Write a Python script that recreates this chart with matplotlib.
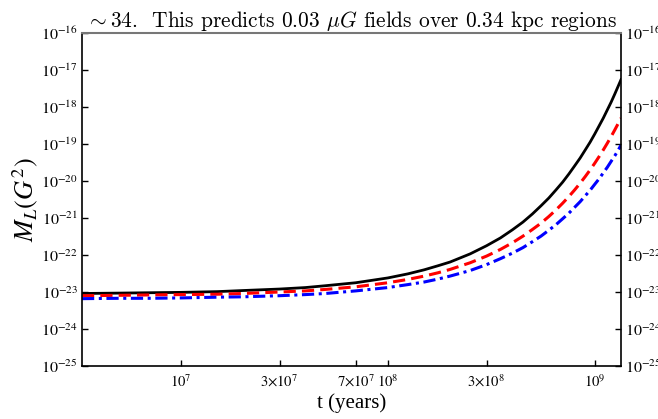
import numpy as np
import matplotlib
matplotlib.use("Agg")
import matplotlib.pyplot as plt
from matplotlib.ticker import FixedLocator, FixedFormatter, NullLocator

# time samples (years) and log10 of M_L
t_years = [3.33e6, 5e6, 7e6, 1e7, 1.5e7, 2e7, 3e7, 4e7, 5e7, 7e7,
           1e8, 1.25e8, 1.5e8, 1.75e8, 2e8, 2.5e8, 3e8, 3.5e8, 4e8, 4.5e8,
           5e8, 5.5e8, 6e8, 6.5e8, 7e8, 7.5e8, 8e8, 8.5e8, 9e8, 9.5e8,
           1e9, 1.05e9, 1.1e9, 1.15e9, 1.2e9, 1.25e9, 1.3e9, 1.34e9]
log_black = [-23.04, -23.03, -23.02, -23.01, -22.99, -22.96, -22.92, -22.88, -22.83, -22.75,
             -22.62, -22.51, -22.40, -22.29, -22.19, -21.97, -21.75, -21.54, -21.32, -21.11,
             -20.89, -20.67, -20.46, -20.24, -20.03, -19.81, -19.59, -19.38, -19.16, -18.95,
             -18.73, -18.51, -18.30, -18.08, -17.87, -17.65, -17.43, -17.26]
log_red = [-23.10, -23.09, -23.08, -23.07, -23.06, -23.04, -23.00, -22.97, -22.93, -22.86,
           -22.75, -22.66, -22.57, -22.48, -22.39, -22.21, -22.03, -21.85, -21.67, -21.49,
           -21.31, -21.14, -20.96, -20.78, -20.60, -20.42, -20.24, -20.06, -19.88, -19.70,
           -19.52, -19.34, -19.16, -18.98, -18.80, -18.62, -18.44, -18.30]
log_blue = [-23.18, -23.17, -23.17, -23.16, -23.14, -23.13, -23.10, -23.07, -23.04, -22.97,
            -22.88, -22.80, -22.73, -22.65, -22.57, -22.42, -22.26, -22.10, -21.95, -21.80,
            -21.64, -21.49, -21.33, -21.18, -21.02, -20.87, -20.71, -20.56, -20.40, -20.25,
            -20.09, -19.94, -19.78, -19.63, -19.47, -19.32, -19.16, -19.03]

x_ticks = [1e7, 3e7, 7e7, 1e8, 3e8, 1e9]
x_labels = [r"$10^{7}$", r"$3{\times}10^{7}$", r"$7{\times}10^{7}$",
            r"$10^{8}$", r"$3{\times}10^{8}$", r"$10^{9}$"]
y_exps = list(range(-25, -15))

fig = plt.figure(figsize=(6.58, 4.19), dpi=100)
ax = fig.add_axes([0.1246, 0.1265, 0.8192, 0.7947])

t = np.array(t_years)
ax.plot(t, 10 ** np.array(log_black), color="black", lw=2.0)
ax.plot(t, 10 ** np.array(log_red), color="red", lw=2.2, ls=(0, (4, 2)))
ax.plot(t, 10 ** np.array(log_blue), color="blue", lw=2.2, ls=(0, (4, 1.5, 1, 1.5)))

ax.set_xscale("log")
ax.set_yscale("log")
ax.set_xlim(3.33e6, 1.34e9)
ax.set_ylim(1e-25, 1e-16)

ax.xaxis.set_major_locator(FixedLocator(x_ticks))
ax.xaxis.set_major_formatter(FixedFormatter(x_labels))
ax.xaxis.set_minor_locator(NullLocator())
y_ticks = [10.0 ** e for e in y_exps]
ax.yaxis.set_major_locator(FixedLocator(y_ticks))
ax.yaxis.set_major_formatter(FixedFormatter([r"$10^{%d}$" % e for e in y_exps]))
ax.yaxis.set_minor_locator(NullLocator())

ax.tick_params(axis="both", which="major", direction="in", length=4, width=1)
ax.tick_params(axis="y", right=True, labelright=True, labelsize=11.5, pad=3)
ax.tick_params(axis="x", top=False, labelsize=10.5, pad=5)
for lab in ax.get_xticklabels() + ax.get_yticklabels():
    lab.set_math_fontfamily("stix")

for side in ["left", "right", "bottom"]:
    ax.spines[side].set_linewidth(1.2)
ax.spines["top"].set_color("#777777")
ax.spines["top"].set_linewidth(1.5)

ax.set_xlabel("t (years)", fontfamily="Liberation Serif", fontsize=15, labelpad=3)
ax.set_ylabel(r"$M_L(G^2)$", fontsize=19, math_fontfamily="stix", labelpad=1)
ax.set_title(r"$\sim$34.  This predicts 0.03 $\mu G$ fields over 0.34 kpc regions",
             fontfamily="cmr10", math_fontfamily="cm", fontsize=15.4, pad=4)

fig.savefig("out.png", dpi=100)
